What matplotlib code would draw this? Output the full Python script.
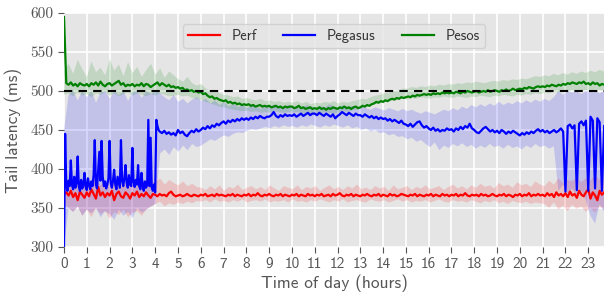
import numpy as np
import matplotlib
matplotlib.use("Agg")
import matplotlib.pyplot as plt

# tail latency (ms), sampled every 0.1 h from 0 to 23.7 h
perf = [368, 370, 366, 372, 364, 369, 360, 371, 367, 363,
        370, 365, 374, 368, 362, 377, 366, 370, 364, 369,
        366, 372, 360, 368, 371, 365, 363, 370, 367, 362,
        369, 366, 371, 364, 368, 365, 370, 366, 363, 368,
        367, 365, 368, 366, 367, 365, 369, 371, 367, 365,
        366, 367, 365, 366, 368, 366, 365, 367, 366, 365,
        367, 366, 368, 365, 366, 367, 365, 368, 366, 367,
        366, 365, 367, 366, 368, 365, 367, 366, 365, 367,
        366, 368, 365, 367, 366, 369, 366, 365, 367, 366,
        368, 366, 365, 367, 366, 368, 365, 367, 366, 365,
        367, 366, 368, 365, 367, 366, 365, 368, 366, 367,
        365, 367, 366, 368, 365, 366, 367, 365, 368, 366,
        367, 369, 366, 365, 367, 366, 368, 365, 367, 366,
        365, 367, 366, 368, 366, 365, 367, 366, 368, 365,
        367, 366, 365, 368, 366, 367, 365, 366, 368, 367,
        366, 365, 367, 366, 368, 365, 367, 366, 365, 367,
        366, 368, 365, 367, 366, 365, 368, 366, 367, 365,
        367, 366, 368, 365, 367, 366, 369, 366, 365, 367,
        366, 367, 365, 368, 366, 367, 365, 366, 368, 366,
        365, 367, 366, 368, 365, 367, 366, 364, 367, 366,
        368, 365, 367, 366, 369, 365, 367, 366, 368, 366,
        367, 365, 369, 366, 368, 364, 370, 366, 368, 365,
        369, 364, 371, 366, 368, 363, 372, 367, 365, 370,
        374, 362, 370, 366, 360, 372, 367, 370]

pesos = [595, 510, 508, 511, 507, 509, 506, 510, 508, 507,
         509, 506, 510, 508, 511, 507, 512, 508, 506, 509,
         510, 507, 509, 511, 513, 508, 510, 506, 508, 507,
         509, 506, 508, 507, 510, 506, 509, 508, 505, 507,
         509, 511, 507, 510, 508, 506, 508, 505, 506, 504,
         505, 503, 504, 501, 502, 500, 501, 499, 500, 498,
         499, 496, 497, 494, 492, 493, 490, 491, 489, 488,
         487, 488, 485, 486, 484, 485, 483, 484, 482, 483,
         482, 483, 481, 482, 480, 481, 482, 480, 481, 480,
         481, 479, 480, 481, 479, 480, 478, 480, 479, 480,
         480, 478, 479, 481, 478, 479, 477, 478, 479, 477,
         478, 477, 479, 477, 478, 476, 478, 477, 479, 478,
         477, 479, 478, 480, 478, 479, 477, 479, 480, 478,
         479, 481, 480, 482, 481, 483, 484, 486, 485, 487,
         486, 488, 487, 489, 490, 489, 491, 490, 492, 491,
         492, 493, 492, 494, 493, 495, 494, 495, 496, 495,
         496, 495, 497, 496, 497, 496, 498, 497, 498, 497,
         498, 497, 499, 498, 497, 499, 498, 500, 499, 498,
         499, 500, 498, 499, 500, 499, 501, 499, 500, 501,
         500, 499, 501, 500, 502, 500, 501, 503, 501, 502,
         503, 502, 504, 503, 505, 504, 503, 505, 506, 505,
         506, 505, 507, 506, 508, 507, 506, 508, 507, 509,
         508, 510, 509, 511, 510, 509, 511, 510, 512, 509,
         510, 508, 511, 509, 510, 507, 509, 508]

# Pegasus: every 0.05 h up to 4.15 h, then every 0.1 h
pegasus_early = [300, 445, 380, 372, 385, 378, 411, 380, 374, 390,
                 376, 382, 416, 378, 372, 386, 375, 380, 395, 377,
                 373, 388, 380, 374, 384, 378, 392, 437, 380, 375,
                 398, 422, 385, 436, 390, 378, 384, 375, 380, 388,
                 436, 382, 376, 385, 399, 380, 374, 390, 383, 376,
                 437, 385, 378, 388, 405, 382, 376, 392, 380, 378,
                 427, 384, 377, 386, 380, 405, 378, 374, 395, 378,
                 372, 384, 376, 380, 463, 378, 440, 376, 372, 380,
                 370, 463, 455, 450]
pegasus_late = [448, 446, 449, 445, 447, 444, 446, 443,
                450, 446, 448, 444, 442, 446, 449, 447, 451, 448,
                450, 453, 451, 455, 452, 456, 454, 458, 456, 459,
                461, 458, 462, 460, 463, 461, 464, 462, 465, 463,
                465, 463, 466, 464, 467, 465, 468, 466, 465, 467,
                467, 469, 473, 468, 466, 469, 467, 470, 468, 469,
                468, 470, 467, 469, 471, 468, 470, 472, 469, 471,
                471, 469, 472, 470, 468, 471, 469, 467, 470, 465,
                468, 470, 473, 471, 469, 472, 470, 468, 471, 469,
                469, 467, 470, 468, 466, 468, 465, 467, 464, 466,
                464, 465, 462, 464, 461, 463, 461, 459, 462, 458,
                457, 455, 458, 454, 457, 460, 461, 456, 453, 455,
                452, 450, 453, 449, 451, 448, 450, 449, 452, 450,
                451, 448, 452, 450, 454, 451, 455, 453, 458, 452,
                450, 447, 446, 449, 452, 454, 451, 448, 450, 447,
                449, 446, 450, 448, 445, 448, 446, 449, 447, 445,
                443, 446, 444, 447, 445, 448, 446, 449, 451, 448,
                450, 447, 449, 446, 448, 450, 447, 449, 452, 448,
                371, 455, 457, 452, 456, 373, 458, 461, 456, 462,
                372, 467, 462, 375, 465, 460, 372, 455]

# spread bands, sampled every 0.2 h
perf_hi = [375, 384, 380, 387, 378, 386, 382, 388, 379, 385,
           381, 387, 383, 378, 386, 380, 385, 382, 387, 384,
           383, 388, 380, 386, 382, 379, 384, 378, 381, 377,
           376, 373, 378, 374, 379, 372, 377, 375, 380, 373,
           376, 378, 374, 377, 373, 379, 375, 372, 378, 376,
           374, 379, 373, 377, 375, 378, 372, 376, 379, 374,
           377, 373, 378, 375, 380, 374, 376, 373, 378, 375,
           377, 372, 379, 374, 376, 378, 373, 377, 375, 379,
           374, 376, 378, 373, 377, 380, 375, 378, 374, 379,
           376, 381, 377, 379, 375, 382, 378, 380, 376, 383,
           379, 381, 377, 384, 380,
           378, 385, 380, 388, 382, 386, 384, 390, 383, 388,
           385, 392, 386, 389]
perf_lo = [355, 350, 345, 352, 340, 348, 338, 350, 342, 346,
           336, 345, 341, 348, 338, 344, 346, 340, 348, 352,
           355, 358, 352, 356, 354, 357, 355, 358, 356, 359,
           358, 360, 357, 361, 358, 359, 357, 360, 358, 361,
           357, 359, 360, 358, 361, 357, 359, 358, 360, 357,
           361, 358, 359, 357, 360, 358, 361, 359, 357, 360,
           358, 361, 357, 359, 360, 358, 357, 361, 359, 358,
           360, 357, 359, 361, 358, 360, 357, 359, 358, 360,
           357, 359, 361, 358, 357, 360, 358, 359, 357, 360,
           358, 356, 359, 357, 360, 356, 358, 355, 359, 357,
           356, 358, 355, 357, 356,
           355, 350, 357, 348, 353, 346, 354, 349, 352, 345,
           350, 344, 352, 348]

pegasus_hi = [450, 495, 500, 488, 500, 492, 500, 485, 498, 500,
              490, 500, 494, 500, 487, 499, 500, 491, 500, 496,
              500, 497, 492, 488, 495, 486, 490, 484, 489, 492,
              487, 490, 484, 488, 482, 486, 480, 484, 479, 483,
              478, 482, 480, 477, 481, 479, 483, 478, 480, 482,
              479, 481, 478, 482, 480, 478, 481, 479, 483, 480,
              478, 482, 479, 481, 477, 480, 478, 476, 479, 477,
              475, 478, 476, 474, 477,
              474, 476, 473, 471, 474, 472, 470, 473, 476, 474,
              478, 475, 480, 477, 482, 479, 483, 480, 484, 481,
              486, 482, 485, 483, 487,
              484, 488, 485, 489, 486, 490, 487, 492, 500, 495,
              500, 498, 500, 496, 500, 499, 500, 497, 500]
pegasus_lo = [300, 350, 345, 352, 340, 348, 343, 350, 338, 346,
              342, 335, 348, 340, 345, 337, 350, 344, 348, 352,
              355, 420, 425, 418, 428, 422, 430, 424, 432, 428,
              430, 434, 438, 436, 440, 443, 441, 445, 447, 446,
              449, 451, 450, 452, 454, 452, 455, 453, 456, 454,
              455, 453, 456, 454, 457, 455, 453, 456, 454, 457,
              455, 453, 456, 452, 454, 450, 452, 448, 450, 446,
              447, 443, 445, 441, 442,
              438, 440, 435, 437, 432, 428, 434, 424, 430, 427,
              432, 429, 433, 428, 431, 426, 430, 427, 432, 428,
              430, 426, 431, 427, 429,
              425, 430, 427, 432, 428, 430, 426, 429, 372, 380,
              368, 375, 366, 372, 360, 340, 330, 355, 345]

pesos_hi = [525, 535, 522, 540, 528, 518, 538, 524, 530, 520,
            541, 526, 534, 519, 537, 523, 531, 518, 527, 535,
            521, 529, 517, 525, 520,
            515, 512, 518, 510, 507, 509, 503, 500, 501, 497,
            495, 494, 492, 493, 490, 491, 489, 488, 490, 487,
            488, 486, 487, 485, 486,
            485, 487, 484, 486, 483, 485, 484, 486, 485, 487,
            484, 486, 485, 487, 488, 490, 489, 492, 494, 495,
            497, 498, 500, 501, 503,
            503, 505, 504, 506, 505, 507, 506, 508, 507, 509,
            508, 510, 509, 511, 510, 512, 511, 510, 512, 513,
            512, 514, 513, 515, 514,
            516, 515, 517, 519, 518, 520, 519, 522, 520, 523,
            521, 524, 522, 525, 523, 526, 524, 527, 525]
pesos_lo = [495, 497, 493, 498, 494, 496, 492, 497, 495, 499,
            494, 497, 493, 496, 498, 494, 497, 495, 493, 496,
            494, 497, 495, 493, 494,
            495, 493, 494, 491, 490, 488, 486, 484, 482, 480,
            479, 477, 476, 475, 474, 475, 473, 474, 472, 473,
            472, 474, 473, 472, 473,
            472, 473, 471, 472, 470, 472, 471, 473, 472, 471,
            472, 474, 473, 475, 476, 478, 479, 481, 483, 484,
            486, 487, 488, 489, 490,
            489, 491, 490, 492, 491, 490, 492, 491, 493, 492,
            491, 493, 492, 491, 493, 492, 494, 493, 492, 494,
            493, 495, 494, 493, 495,
            494, 496, 495, 497, 496, 498, 497, 499, 498, 500,
            499, 501, 500, 499, 501, 500, 502, 501, 500]

slo = 500
end_hour = 23.7

label_font = "cmss10"
grey = "#555555"

fig = plt.figure(figsize=(6.06, 2.99), dpi=100)
ax = fig.add_axes([0.1056, 0.174, 0.8914, 0.7826])
ax.set_facecolor("#E5E5E5")
for s in ax.spines.values():
    s.set_visible(False)
ax.grid(True, color="white", lw=1.2)
ax.set_axisbelow(True)


def band(hi, lo, color):
    xh = np.linspace(0, end_hour, len(hi))
    xl = np.linspace(0, end_hour, len(lo))
    ax.fill(np.r_[xh, xl[::-1]], np.r_[hi, lo[::-1]], color=color,
            alpha=0.15, lw=0)


band(perf_hi, perf_lo, "red")
band(pegasus_hi, pegasus_lo, "blue")
band(pesos_hi, pesos_lo, "green")

t_perf = np.linspace(0, end_hour, len(perf))
t_pesos = np.linspace(0, end_hour, len(pesos))
t_peg = np.r_[np.linspace(0, 4.15, len(pegasus_early)),
              np.linspace(4.2, end_hour, len(pegasus_late))]

ax.plot(t_perf, perf, color="red", lw=1.6, label="Perf")
ax.plot(t_peg, pegasus_early + pegasus_late, color="blue", lw=1.6,
        label="Pegasus")
ax.plot(t_pesos, pesos, color="green", lw=1.6, label="Pesos")
ax.axhline(slo, color="black", ls="--", lw=1.5, dashes=(4, 3))

ax.set_xlim(0, end_hour)
ax.set_ylim(300, 600)
ax.set_xticks(range(0, 24))
ax.set_yticks(range(300, 601, 50))
ax.tick_params(direction="out", length=4, color=grey, labelcolor=grey)
for lab in ax.get_xticklabels():
    lab.set_fontfamily(label_font)
    lab.set_fontsize(11)
for lab in ax.get_yticklabels():
    lab.set_fontfamily("cmr10")
    lab.set_fontsize(11)

ax.set_xlabel("Time of day (hours)", fontfamily=label_font, fontsize=12.5,
              color=grey, labelpad=2)
ax.set_ylabel("Tail latency (ms)", fontfamily=label_font, fontsize=12.5,
              color=grey, labelpad=6)

leg = ax.legend(loc="upper center", ncol=3, bbox_to_anchor=(0.5, 0.985),
                prop={"family": label_font, "size": 10.5}, frameon=True,
                handlelength=2.2, columnspacing=1.8, borderpad=0.35)
leg.get_frame().set_facecolor("#E5E5E5")
leg.get_frame().set_edgecolor("#CCCCCC")
for txt in leg.get_texts():
    txt.set_color("#333333")

fig.savefig("out.png", dpi=100)
